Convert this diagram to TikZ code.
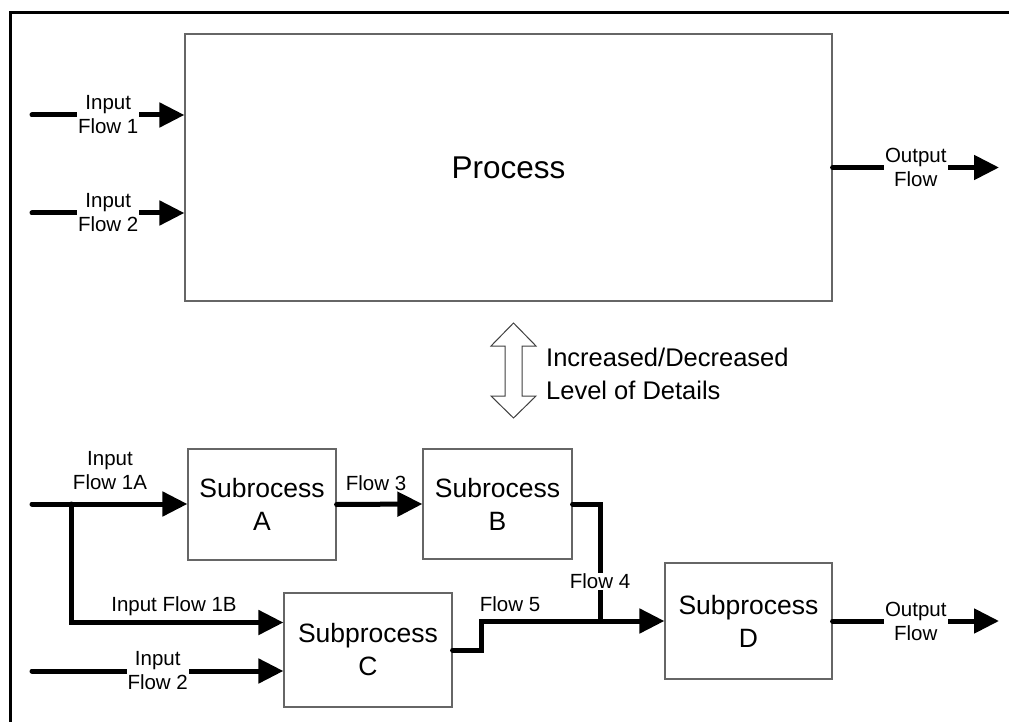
\documentclass[tikz,border=0pt]{standalone}
\usepackage{fontspec}
\setmainfont{Liberation Sans}
\usetikzlibrary{arrows.meta}

\begin{document}
\begin{tikzpicture}
[%%%%%%%%%%%%%%%%%%%%%%%%%%%%%%
x=1pt,y=-1pt,
box/.style={rectangle,draw=black!60,line width=1.2pt,align=center,inner sep=0pt,font=\fontsize{26.5}{33}\selectfont},
flow/.style={line width=5pt,line cap=round,-{Triangle[length=25pt,width=24pt]}},
line/.style={line width=5pt,line cap=round},
lbl/.style={fill=white,inner sep=1pt,align=center,font=\fontsize{20.5}{24}\selectfont},
txt/.style={inner sep=0pt,align=center,font=\fontsize{20.5}{24}\selectfont},
]%%%%%%%%%%%%%%%%%%%%%%%%%%%%%%
\useasboundingbox (0,0) rectangle (1009,722);
\draw[line width=3pt] (10,740) -- (10,13) -- (1030,13);

% top level
\node[box,minimum width=647,minimum height=267,font=\fontsize{31.5}{36}\selectfont] (P) at (508.5,167.5){Process};
\coordinate (in1) at (32,115);
\coordinate (in2) at (32,213);
\coordinate (out) at (999,167.5);
\draw[flow] (in1) -- node[lbl]{Input\\Flow 1} (in1 -| P.west);
\draw[flow] (in2) -- node[lbl]{Input\\Flow 2} (in2 -| P.west);
\draw[flow] (P.east) -- node[lbl]{Output\\Flow} (out);

% level of details
\draw[draw=black!75,line width=1pt,fill=white,line join=miter]
  (513.5,323) -- (536,346) -- (522,346) -- (522,396) -- (536,396) -- (513.5,418)
  -- (491,396) -- (505,396) -- (505,346) -- (491,346) -- cycle;
\node[anchor=west,align=left,inner sep=0pt,font=\fontsize{25.5}{33}\selectfont] (detail) at (546,373.5)
  {Increased/Decreased\\Level of Details};

% sub level
\node[box,minimum width=148,minimum height=111] (A) at (262,504.5){Subrocess\\A};
\node[box,minimum width=149,minimum height=110] (B) at (497.5,504){Subrocess\\B};
\node[box,minimum width=168,minimum height=114] (C) at (368,650){Subprocess\\C};
\node[box,minimum width=167,minimum height=116] (D) at (748.5,621){Subprocess\\D};

\coordinate (in1a) at (32,504);
\coordinate (j1) at (71,504);
\coordinate (in2b) at (32,671);
\coordinate (j4) at (600,621);
\coordinate (k5) at (481,650);
\coordinate (out2) at (999,621);

\draw[flow] (in1a) -- (in1a -| A.west);
\draw[flow] (j1) |- (C.162);
\draw[flow] (in2b) -- node[lbl]{Input\\Flow 2} (in2b -| C.west);
\draw[flow] (A.east) -- (B.west);
\draw[line] (B.east) -| node[lbl,pos=0.83]{Flow 4} (j4);
\draw[flow] (C.east) -- (k5) |- (D.west);
\draw[flow] (D.east) -- node[lbl]{Output\\Flow} (out2);

\node[txt] (l1a) at (110,471){Input\\Flow 1A};
\node[txt] (l1b) at (174,606){Input Flow 1B};
\node[txt] (l3) at (376,483){Flow 3};
\node[txt] (l5) at (510,604){Flow 5};
\end{tikzpicture}
\end{document}
